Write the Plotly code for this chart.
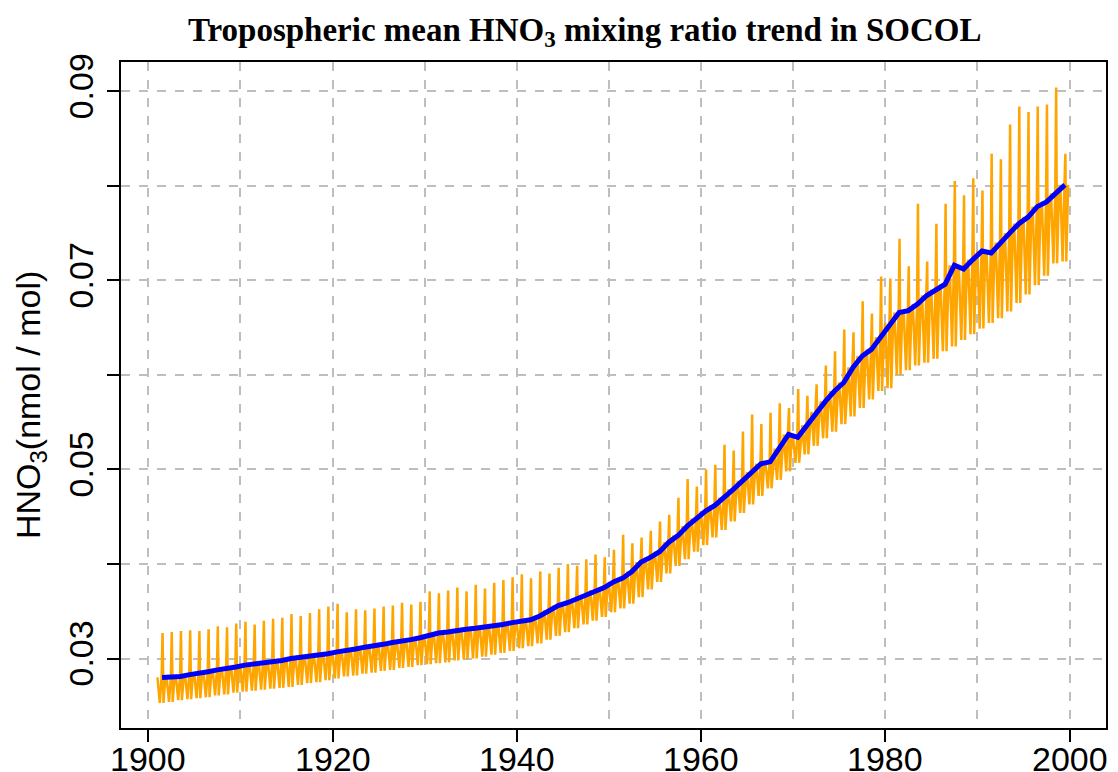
import plotly.graph_objects as go

# ---------------- data ----------------
years = list(range(1901, 2000))

peak_vals = [
    0.0327, 0.0328, 0.0329, 0.0330, 0.0329, 0.0331, 0.0334, 0.0333, 0.0337, 0.0339,
    0.0336, 0.0340, 0.0342, 0.0343, 0.0347, 0.0345, 0.0348, 0.0352, 0.0355, 0.0358,
    0.0349, 0.0352, 0.0351, 0.0353, 0.0355, 0.0356, 0.0359, 0.0357, 0.0360, 0.0371,
    0.0369, 0.0372, 0.0375, 0.0371, 0.0378, 0.0374, 0.0380, 0.0383, 0.0386, 0.0389,
    0.0385, 0.0392, 0.0390, 0.0396, 0.0400, 0.0398, 0.0405, 0.0410, 0.0407, 0.0415,
    0.0431, 0.0422, 0.0428, 0.0435, 0.0445, 0.0452, 0.0470, 0.0490, 0.0482, 0.0500,
    0.0505, 0.0526, 0.0520, 0.0540, 0.0558, 0.0548, 0.0560, 0.0570, 0.0565, 0.0585,
    0.0578, 0.0590, 0.0610, 0.0625, 0.0648, 0.0645, 0.0678, 0.0665, 0.0704, 0.0702,
    0.0744, 0.0715, 0.0781, 0.0720, 0.0760, 0.0781, 0.0805, 0.0790, 0.0808, 0.0795,
    0.0834, 0.0828, 0.0865, 0.0884, 0.0878, 0.0884, 0.0886, 0.0904, 0.0834,
]

trough_vals = [
    0.0253, 0.0254, 0.0256, 0.0257, 0.0258, 0.0259, 0.0261, 0.0262, 0.0264, 0.0265,
    0.0266, 0.0267, 0.0268, 0.0269, 0.0270, 0.0272, 0.0274, 0.0275, 0.0277, 0.0279,
    0.0281, 0.0282, 0.0284, 0.0285, 0.0287, 0.0288, 0.0290, 0.0291, 0.0293, 0.0294,
    0.0295, 0.0296, 0.0298, 0.0299, 0.0300, 0.0302, 0.0304, 0.0306, 0.0308, 0.0311,
    0.0313, 0.0316, 0.0320, 0.0324, 0.0328, 0.0332, 0.0336, 0.0340, 0.0344, 0.0349,
    0.0353, 0.0358, 0.0365, 0.0373, 0.0381, 0.0390, 0.0398, 0.0405, 0.0413, 0.0420,
    0.0428, 0.0436, 0.0445, 0.0454, 0.0463, 0.0472, 0.0480, 0.0489, 0.0498, 0.0507,
    0.0516, 0.0525, 0.0533, 0.0540, 0.0548, 0.0556, 0.0565, 0.0574, 0.0583, 0.0586,
    0.0600, 0.0605, 0.0610, 0.0613, 0.0617, 0.0625, 0.0630, 0.0637, 0.0643, 0.0649,
    0.0655, 0.0660, 0.0667, 0.0676, 0.0685, 0.0695, 0.0705, 0.0718, 0.0720,
]

trend_years = [y + 0.5 for y in years]
trend_vals = [
    0.0280, 0.0280, 0.0281, 0.0283, 0.0284, 0.0286, 0.0288, 0.0289, 0.0291, 0.0293,
    0.0294, 0.0296, 0.0297, 0.0298, 0.0300, 0.0301, 0.0302, 0.0303, 0.0305, 0.0307,
    0.0308, 0.0310, 0.0312, 0.0313, 0.0315, 0.0317, 0.0318, 0.0320, 0.0322, 0.0325,
    0.0327, 0.0328, 0.0330, 0.0331, 0.0332, 0.0333, 0.0334, 0.0336, 0.0338, 0.0339,
    0.0341, 0.0345, 0.0351, 0.0356, 0.0359, 0.0363, 0.0367, 0.0372, 0.0375, 0.0381,
    0.0385, 0.0392, 0.0402, 0.0407, 0.0413, 0.0423, 0.0430, 0.0440, 0.0448, 0.0456,
    0.0462, 0.0470, 0.0479, 0.0488, 0.0497, 0.0506, 0.0508, 0.0522, 0.0537, 0.0534,
    0.0547, 0.0561, 0.0572, 0.0583, 0.0592, 0.0608, 0.0620, 0.0627, 0.0640, 0.0655,
    0.0666, 0.0668, 0.0675, 0.0684, 0.0690, 0.0696, 0.0716, 0.0712, 0.0722, 0.0731,
    0.0729, 0.0740, 0.0750, 0.0760, 0.0767, 0.0778, 0.0783, 0.0792, 0.0801,
]

x_ticks = [1900, 1920, 1940, 1960, 1980, 2000]
y_ticks = [0.03, 0.05, 0.07, 0.09]

# ---------------- build the seasonal path from read values ----------------
ox, oy = [], []
for yr, hi, lo, mid in zip(years, peak_vals, trough_vals, trend_vals):
    ox += [yr + 0.0, yr + 0.25, yr + 0.45, yr + 0.55, yr + 0.65, yr + 0.85]
    oy += [mid, lo, mid, hi, lo, mid]

fig = go.Figure()
fig.add_trace(go.Scatter(x=ox, y=oy, mode="lines",
                         line=dict(color="#FFA500", width=2.5), showlegend=False))
fig.add_trace(go.Scatter(x=trend_years, y=trend_vals, mode="lines",
                         line=dict(color="#0000FF", width=5),
                         showlegend=False))

axis_font = dict(family="Liberation Sans, Arial, sans-serif", size=34, color="black")

# x tick labels placed on the x axis scale, just under the ticks
x_label_annots = [
    dict(text=str(v), x=v, xref="x", y=0, yref="paper", yanchor="top",
         xanchor="center", yshift=-10, showarrow=False, font=axis_font)
    for v in x_ticks
]

fig.update_layout(
    width=1118, height=772,
    margin=dict(l=121, r=12, t=62, b=44),
    paper_bgcolor="white", plot_bgcolor="white",
    title=dict(
        text="<b>Tropospheric mean HNO<sub>3</sub> mixing ratio trend in SOCOL</b>",
        x=0.523, xanchor="center", y=1 - 29 / 772, yanchor="middle",
        font=dict(family="Liberation Serif, serif", size=33, color="black"),
    ),
    xaxis=dict(
        range=[1897.04, 2003.96], tickvals=x_ticks, showticklabels=False,
        ticks="outside", ticklen=12, tickwidth=1.5, tickcolor="black",
        showline=True, linecolor="black", linewidth=2, mirror=True,
        showgrid=False, zeroline=False, automargin=False,
        minor=dict(dtick=10, tick0=1900, showgrid=True, gridcolor="#BEBEBE",
                   griddash="dash", gridwidth=1.5, ticks=""),
    ),
    yaxis=dict(
        range=[0.02265, 0.0931], tickvals=y_ticks, ticktext=["0.03", "0.05", "0.07", "0.09"],
        ticks="outside", ticklen=12, tickwidth=1.5, tickcolor="black", tickangle=-90,
        showline=True, linecolor="black", linewidth=2, mirror=True,
        showgrid=False, zeroline=False, tickfont=axis_font, automargin=False,
        minor=dict(dtick=0.01, tick0=0.03, showgrid=True, gridcolor="#BEBEBE",
                   griddash="dash", gridwidth=1.5, ticks="outside", ticklen=12,
                   tickwidth=1.5, tickcolor="black"),
    ),
    annotations=x_label_annots + [dict(
        text="HNO<sub>3</sub>(nmol / mol)", textangle=-90,
        xref="paper", yref="paper", x=(30 - 121) / 985, y=(728 - 405) / 666,
        xanchor="center", yanchor="middle", showarrow=False,
        font=dict(family="Liberation Sans, Arial, sans-serif", size=34, color="black"),
    )],
)

fig.write_html("out.html")
